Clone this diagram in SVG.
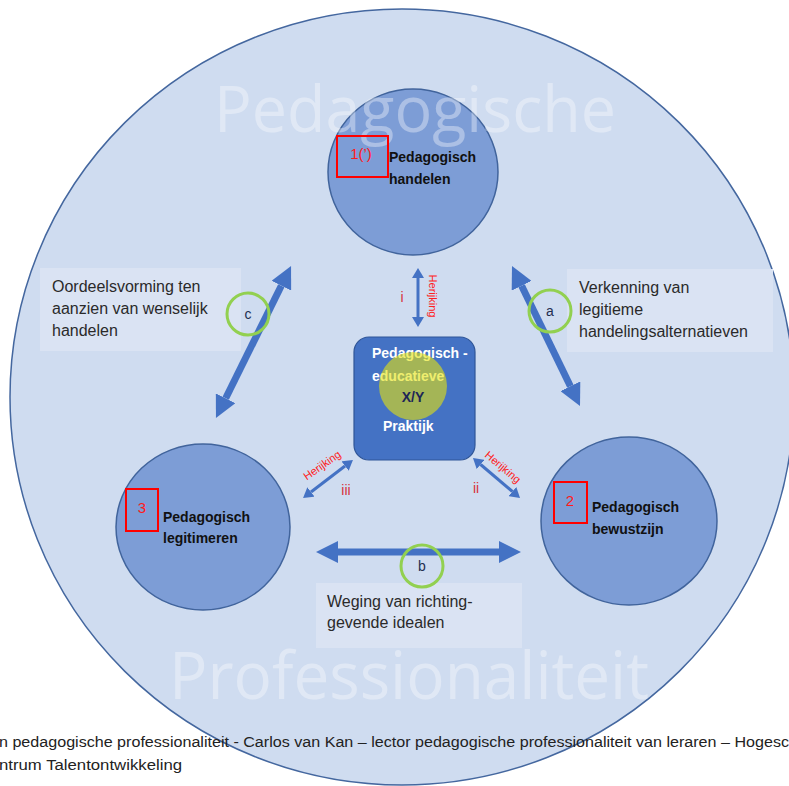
<svg xmlns="http://www.w3.org/2000/svg" width="789" height="786" viewBox="0 0 789 786">
<style>
.node{fill:#7d9dd6;stroke:#41649c;stroke-width:1.5}
.lbl{font-family:"Liberation Sans",Arial,sans-serif;font-size:14px;font-weight:bold;fill:#111}
.num{font-family:"Liberation Sans",Arial,sans-serif;font-size:15px;fill:#ff1a1a;text-anchor:middle}
.rbox{fill:none;stroke:#ff0000;stroke-width:2}
.box{fill:#dae3f3}
.btxt{font-family:"Liberation Sans",Arial,sans-serif;font-size:16px;fill:#2a2a2a}
.ring{fill:none;stroke:#92d050;stroke-width:3}
.let{font-family:"Liberation Sans",Arial,sans-serif;font-size:14px;fill:#1f2f50;text-anchor:middle}
.big{stroke:#4472c4;stroke-width:7;fill:none}
.small{stroke:#4472c4;stroke-width:3;fill:none}
.her{font-family:"Liberation Sans",Arial,sans-serif;font-size:11px;fill:#ff2020;text-anchor:middle}
.rom{font-family:"Liberation Sans",Arial,sans-serif;font-size:14px;fill:#d8303a;text-anchor:middle}
.wm{font-family:"Open Sans","Liberation Sans",sans-serif;fill:#ffffff;fill-opacity:0.36}
.ctr{font-family:"Liberation Sans",Arial,sans-serif;font-size:14px;font-weight:bold;fill:#ffffff}
.foot{font-family:"Liberation Sans",Arial,sans-serif;font-size:14px;fill:#222}
</style>
<defs>
<marker id="hb" markerUnits="userSpaceOnUse" viewBox="0 -11 22 22" refX="0" refY="0" markerWidth="22" markerHeight="22" orient="auto-start-reverse">
<path d="M0,-11 L22,0 L0,11 z" fill="#4472c4"/>
</marker>
<marker id="hs" markerUnits="userSpaceOnUse" viewBox="0 -6 10 12" refX="0" refY="0" markerWidth="10" markerHeight="12" orient="auto-start-reverse">
<path d="M0,-6 L10,0 L0,6 z" fill="#4472c4"/>
</marker>
</defs>
<rect width="789" height="786" fill="#ffffff"/>
<g id="background">
<ellipse cx="402" cy="397" rx="392" ry="388" fill="#cfdcf0" stroke="#44679f" stroke-width="1.5"/>
</g>
<g id="footer">
<text class="foot" x="-1" y="747" textLength="790" lengthAdjust="spacingAndGlyphs">n pedagogische professionaliteit - Carlos van Kan – lector pedagogische professionaliteit van leraren – Hogesc</text>
<text class="foot" x="-1" y="770" textLength="183" lengthAdjust="spacingAndGlyphs">ntrum Talentontwikkeling</text>
</g>
<g id="node-handelen">
<ellipse class="node" cx="413" cy="172" rx="85" ry="83"/>
</g>
<g id="node-legitimeren">
<ellipse class="node" cx="203" cy="527" rx="87" ry="83"/>
</g>
<g id="node-bewustzijn">
<ellipse class="node" cx="629" cy="521" rx="88" ry="84"/>
</g>
<g id="watermark">
<text class="wm" x="214" y="132" font-size="64" textLength="402" lengthAdjust="spacingAndGlyphs">Pedagogische</text>
<text class="wm" x="169" y="699" font-size="66" textLength="480" lengthAdjust="spacingAndGlyphs">Professionaliteit</text>
</g>
<g id="labels-handelen">
<rect class="rbox" x="337" y="136" width="51" height="41"/>
<text class="num" x="361" y="159">1(’)</text>
<text class="lbl" x="389" y="162">Pedagogisch</text>
<text class="lbl" x="389" y="184">handelen</text>
</g>
<g id="labels-legitimeren">
<rect class="rbox" x="126" y="489" width="32" height="42"/>
<text class="num" x="142" y="513">3</text>
<text class="lbl" x="163" y="522">Pedagogisch</text>
<text class="lbl" x="163" y="543">legitimeren</text>
</g>
<g id="labels-bewustzijn">
<rect class="rbox" x="554" y="482" width="33" height="41"/>
<text class="num" x="570" y="506">2</text>
<text class="lbl" x="592" y="512">Pedagogisch</text>
<text class="lbl" x="592" y="534">bewustzijn</text>
</g>
<g id="node-praktijk">
<rect x="354" y="337" width="121" height="123" rx="15" fill="#4472c4" stroke="#2f5597" stroke-width="1.2"/>
<text class="ctr" x="372" y="358">Pedagogisch -</text>
<text class="ctr" x="372" y="381">educatieve</text>
<text class="ctr" x="383" y="431">Praktijk</text>
<circle cx="413" cy="386" r="34" fill="#e4e20d" fill-opacity="0.6"/>
<text class="ctr" x="413" y="402" text-anchor="middle" style="fill:#1c2556">X/Y</text>
</g>
<g id="connectors">
<line class="big" x1="225.7" y1="398.3" x2="281.3" y2="285.7" marker-start="url(#hb)" marker-end="url(#hb)"/>
<line class="big" x1="521.6" y1="285.8" x2="570.4" y2="386.2" marker-start="url(#hb)" marker-end="url(#hb)"/>
<line class="big" x1="338" y1="552" x2="499" y2="552" marker-start="url(#hb)" marker-end="url(#hb)"/>
<line class="small" x1="418" y1="278" x2="418" y2="317" marker-start="url(#hs)" marker-end="url(#hs)"/>
<line class="small" x1="311" y1="492" x2="345" y2="466" marker-start="url(#hs)" marker-end="url(#hs)"/>
<line class="small" x1="480.6" y1="464.5" x2="512.4" y2="491.5" marker-start="url(#hs)" marker-end="url(#hs)"/>
<text class="her" transform="translate(433 296) rotate(90)" y="4">Herijking</text>
<text class="her" transform="translate(322 465) rotate(-35)" y="4">Herijking</text>
<text class="her" transform="translate(503 467) rotate(40)" y="4">Herijking</text>
<text class="rom" x="402" y="302">i</text>
<text class="rom" x="346" y="495">iii</text>
<text class="rom" x="476" y="493">ii</text>
</g>
<g id="label-c">
<rect class="box" x="40" y="268" width="201" height="83"/>
<text class="btxt" x="52" y="292">Oordeelsvorming ten</text>
<text class="btxt" x="52" y="314">aanzien van wenselijk</text>
<text class="btxt" x="52" y="336">handelen</text>
<circle class="ring" cx="248" cy="314" r="21"/>
<text class="let" x="248" y="319">c</text>
</g>
<g id="label-a">
<rect class="box" x="567" y="269" width="206" height="83"/>
<text class="btxt" x="579" y="293">Verkenning van</text>
<text class="btxt" x="579" y="315">legitieme</text>
<text class="btxt" x="579" y="337">handelingsalternatieven</text>
<circle class="ring" cx="550" cy="311" r="21"/>
<text class="let" x="550" y="316">a</text>
</g>
<g id="label-b">
<rect class="box" x="316" y="583" width="206" height="65"/>
<text class="btxt" x="327" y="607">Weging van richting-</text>
<text class="btxt" x="327" y="628">gevende idealen</text>
<circle class="ring" cx="422" cy="566" r="21"/>
<text class="let" x="422" y="571">b</text>
</g>
</svg>
